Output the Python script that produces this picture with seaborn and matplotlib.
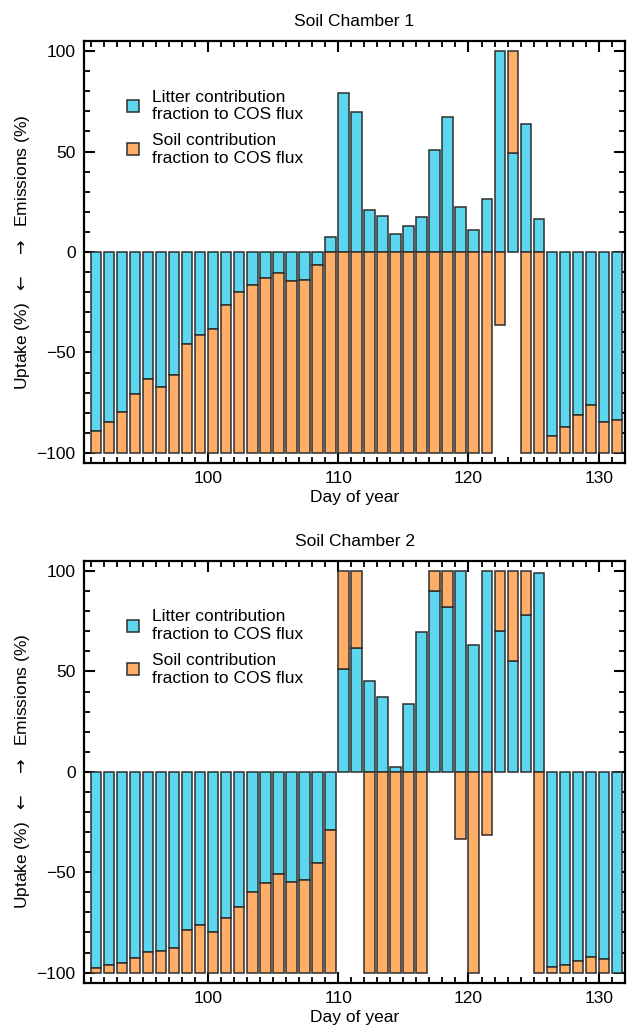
import numpy as np
import pandas as pd
import matplotlib
matplotlib.use("Agg")
import matplotlib.pyplot as plt
from matplotlib.ticker import MultipleLocator
from matplotlib.patches import Patch
import seaborn as sns

# ---------------- data ----------------
days = list(range(91, 132))

# Soil chamber 1 (percent contribution, sign = emission(+)/uptake(-))
litter1 = [-89.2, -84.7, -79.6, -70.6, -63.1, -67.4, -61.0, -46.0, -41.4, -38.4,
           -26.2, -19.8, -16.4, -13.0, -10.3, -14.3, -13.8, -6.3, 7.3, 79.2,
           69.8, 20.9, 17.9, 8.8, 13.0, 17.4, 50.7, 67.1, 22.6, 11.1,
           26.4, 100.0, 49.2, 63.5, 16.6, -91.4, -86.9, -80.9, -75.9, -84.7,
           -83.7]
soil1 = [-10.8, -15.3, -20.4, -29.4, -36.9, -32.6, -39.0, -54.0, -58.6, -61.6,
         -73.8, -80.2, -83.6, -87.0, -89.7, -85.7, -86.2, -93.7, -100.0, -100.0,
         -100.0, -100.0, -100.0, -100.0, -100.0, -100.0, -100.0, -100.0, -100.0, -100.0,
         -100.0, -36.5, 50.8, -100.0, -100.0, -8.6, -13.1, -19.1, -24.1, -15.3,
         -16.3]

# Soil chamber 2
litter2 = [-97.5, -96.3, -95.3, -92.5, -89.5, -89.0, -87.5, -78.9, -76.4, -79.9,
           -72.6, -67.4, -59.8, -55.5, -51.0, -55.0, -53.7, -45.3, -29.2, 51.0,
           61.5, 45.3, 37.4, 2.5, 33.6, 69.4, 89.9, 82.1, 100.0, 63.0,
           100.0, 70.1, 55.0, 78.2, 98.8, -97.2, -96.3, -94.0, -92.0, -93.4,
           -100.0]
soil2 = [-2.5, -3.7, -4.7, -7.5, -10.5, -11.0, -12.5, -21.1, -23.6, -20.1,
         -27.4, -32.6, -40.2, -44.5, -49.0, -45.0, -46.3, -54.7, -70.8, 49.0,
         38.5, -100.0, -100.0, -100.0, -100.0, -100.0, 10.1, 17.9, -33.4, -100.0,
         -31.7, 29.9, 45.0, 21.8, -100.0, -2.8, -3.7, -6.0, -8.0, -6.6,
         0.0]

titles = ["Soil Chamber 1", "Soil Chamber 2"]
legend_labels = ["Litter contribution\nfraction to COS flux",
                 "Soil contribution\nfraction to COS flux"]
xticks = [100, 110, 120, 130]
yticks = [-100, -50, 0, 50, 100]

# ---------------- style ----------------
sns.set_theme(style="ticks")
plt.rcParams["font.family"] = ["Liberation Sans", "DejaVu Sans"]
plt.rcParams["axes.unicode_minus"] = True
plt.rcParams["mathtext.fontset"] = "dejavusans"
for k in ["text.color", "axes.labelcolor", "xtick.color", "ytick.color",
          "axes.edgecolor"]:
    plt.rcParams[k] = "black"

BLUE = "#5dd6f0"
ORANGE = "#ffae68"
EDGE = "#2e2e2e"
BAR_W = 0.8
FS = 12.5

fig = plt.figure(figsize=(6.28, 10.25), dpi=100)
ax1 = fig.add_axes([0.1338, 0.5483, 0.8615, 0.4117])
ax2 = fig.add_axes([0.1338, 0.0413, 0.8615, 0.4114])

for ax, lit, soi, title in [(ax1, litter1, soil1, titles[0]),
                            (ax2, litter2, soil2, titles[1])]:
    d = np.array(days, dtype=float)
    L = np.array(lit)
    S = np.array(soi)
    # soil stacked on litter when same sign, else from zero
    same = (np.sign(L) == np.sign(S)) & (L != 0)
    soil_bottom = np.where(same, L, 0.0)
    centers = d + BAR_W / 2  # bars start on the day
    df = pd.DataFrame({"x": centers, "litter": L, "soil": S})

    sns.barplot(data=df, x="x", y="litter", native_scale=True, ax=ax,
                color=BLUE, saturation=1, width=BAR_W, errorbar=None,
                edgecolor=EDGE, linewidth=1.1)
    sns.barplot(data=df, x="x", y="soil", native_scale=True, ax=ax,
                color=ORANGE, saturation=1, width=BAR_W, errorbar=None,
                edgecolor=EDGE, linewidth=1.1, bottom=soil_bottom)

    ax.set_xlim(90.48, 132.02)
    ax.set_ylim(-105, 105)
    ax.set_xticks(xticks)
    ax.set_yticks(yticks)
    ax.xaxis.set_minor_locator(MultipleLocator(1))
    ax.yaxis.set_minor_locator(MultipleLocator(10))
    ax.tick_params(which="both", direction="in", top=True, right=True,
                   labelsize=FS, colors="black", width=1.5)
    ax.tick_params(which="major", length=8, pad=6)
    ax.tick_params(which="minor", length=4, width=1.3)
    for sp in ax.spines.values():
        sp.set_visible(True)
        sp.set_linewidth(1.6)
        sp.set_color("black")
    ax.set_title(title, fontsize=FS, pad=11)
    ax.set_xlabel("Day of year", fontsize=FS, labelpad=3)
    ax.set_ylabel(r"Uptake (%)  $\leftarrow$   $\rightarrow$  Emissions (%)",
                  fontsize=FS, labelpad=3)
    ax.grid(False)

    handles = [Patch(facecolor=BLUE, edgecolor=EDGE, linewidth=1.1),
               Patch(facecolor=ORANGE, edgecolor=EDGE, linewidth=1.1)]
    ax.legend(handles, legend_labels, loc="upper left",
              bbox_to_anchor=(0.08, 0.885), frameon=False, fontsize=FS,
              handlelength=0.7, handleheight=0.7, handletextpad=0.75,
              labelspacing=0.65, borderaxespad=0, borderpad=0)

fig.savefig("out.png", dpi=100)
